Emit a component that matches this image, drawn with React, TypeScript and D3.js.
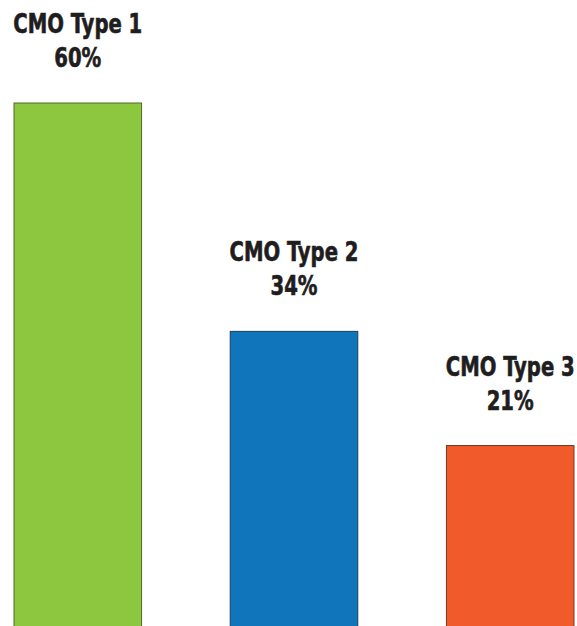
import React, { useEffect, useRef } from "react";
import * as d3 from "d3";

const categories = ["CMO Type 1", "CMO Type 2", "CMO Type 3"];
const values = [60, 34, 21];
const colors = ["#8dc63f", "#1175bb", "#f15a2b"];
const strokes = ["#4a6b2a", "#1c3f5e", "#6b3a22"];

const App = () => {
  const svgRef = useRef<SVGSVGElement>(null);

  useEffect(() => {
    const svg = d3.select(svgRef.current);
    svg.selectAll("*").remove();

    const width = 577;
    const height = 626;

    svg.attr("width", width).attr("height", height);

    const x = d3.scaleBand()
      .domain(categories)
      .range([14, 574])
      .paddingInner(0.41)
      .paddingOuter(0);

    const y = d3.scaleLinear()
      .domain([0, 60])
      .range([630, 103]);

    const rows = categories.map((c, i) => ({ c, v: values[i], i }));

    // bars
    svg.selectAll("rect")
      .data(rows)
      .enter()
      .append("rect")
      .attr("x", d => x(d.c)!)
      .attr("y", d => y(d.v))
      .attr("width", x.bandwidth())
      .attr("height", d => y(0) - y(d.v))
      .attr("fill", d => colors[d.i])
      .attr("stroke", d => strokes[d.i])
      .attr("stroke-width", 1);

    // labels above bars (condensed look via horizontal squeeze)
    const labels = svg.selectAll("g.label")
      .data(rows)
      .enter()
      .append("g")
      .attr("class", "label")
      .attr("transform", d => `translate(${x(d.c)! + x.bandwidth() / 2},${y(d.v) - 36}) scale(0.84,1)`)
      .attr("font-family", "'DejaVu Sans Condensed', 'DejaVu Sans', sans-serif")
      .attr("font-weight", "bold")
      .attr("font-size", 26)
      .attr("fill", "#1f1d1e")
      .attr("stroke", "#1f1d1e")
      .attr("stroke-width", 0.6)
      .attr("text-anchor", "middle");

    labels.append("text")
      .attr("y", -34)
      .text(d => d.c);

    labels.append("text")
      .attr("y", 0)
      .text(d => `${d.v}%`);
  }, []);

  return (
    <svg ref={svgRef} style={{ position: "absolute", left: 0, top: 0, background: "#fff" }}></svg>
  );
};

export default App;
